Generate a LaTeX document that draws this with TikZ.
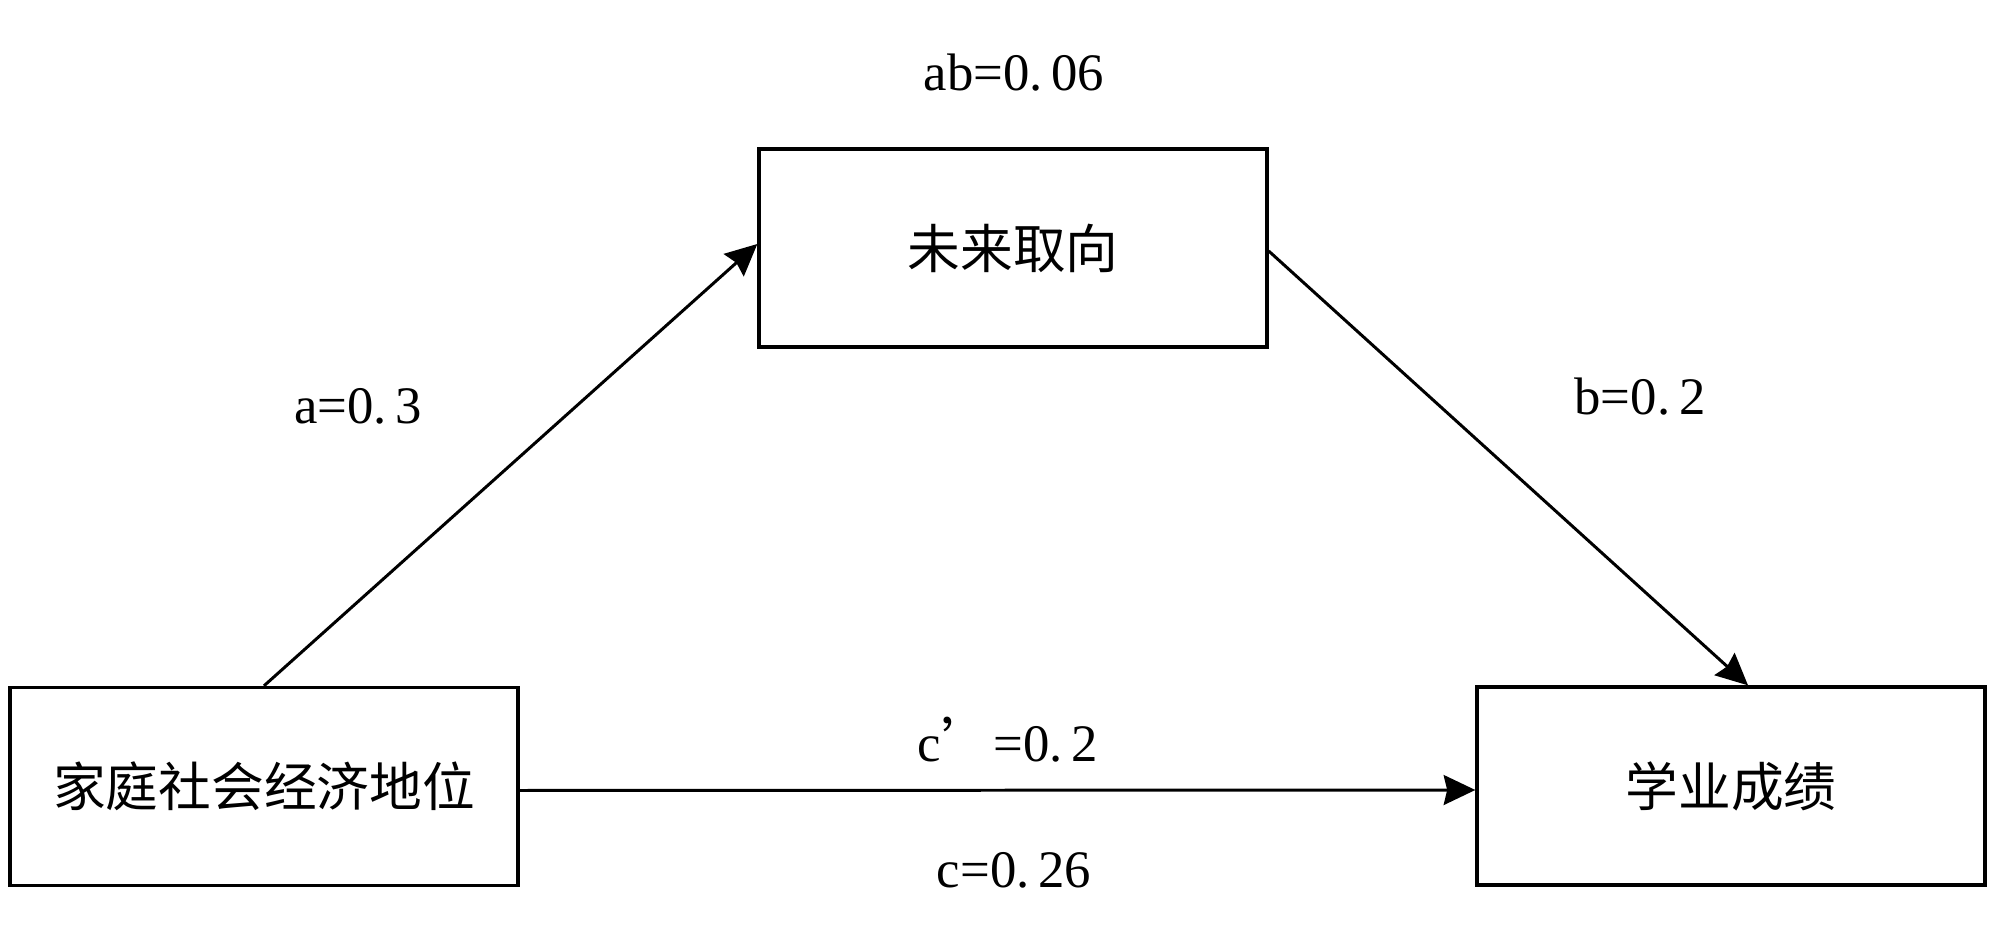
\documentclass[tikz,border=0pt]{standalone}
\usepackage{fontspec}
\setmainfont{Liberation Serif}
\newfontfamily\cjk{Noto Sans CJK SC}
\usetikzlibrary{arrows.meta}
\begin{document}
\begin{tikzpicture}[
  x=1cm,y=1cm,
  box/.style={draw,line width=0.95pt,minimum width=5.08cm,minimum height=1.98cm,inner sep=0pt,font=\cjk\fontsize{15}{18}\selectfont},
  lbl/.style={font=\fontsize{15}{18}\selectfont,inner sep=0pt},
  conn/.style={line width=0.85pt,-{Stealth[length=9pt,width=8.5pt,inset=1pt]}}
]
\useasboundingbox (0,0) rectangle (20,-9.36);
\node[box] (lb) at (2.64,-7.865) {家庭社会经济地位};
\node[box] (tb) at (10.13,-2.48) {未来取向};
\node[box] (rb) at (17.31,-7.86) {学业成绩};

\draw[conn] (lb.north) -- ([yshift=0.04cm]tb.west);
\draw[conn] ([yshift=-0.03cm]tb.east) -- ([xshift=0.17cm]rb.north);
\draw[conn] ([yshift=-0.04cm]lb.east) -- ([yshift=-0.04cm]rb.west);

\node[lbl] (ab) at (10.14,-0.73) {ab=0.\,06};
\node[lbl] (la) at (3.58,-4.06) {a=0.\,3};
\node[lbl] (lbb) at (16.40,-3.97) {b=0.\,2};
\node[lbl] (lcp) at (10.08,-7.40) {c{\cjk ’}=0.\,2};
\node[lbl] (lc) at (10.14,-8.70) {c=0.\,26};
\end{tikzpicture}
\end{document}
